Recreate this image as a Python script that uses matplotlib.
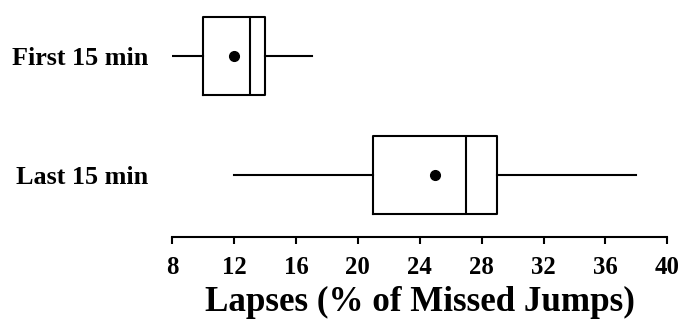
import matplotlib.pyplot as plt

# ======================
# DATA
# ======================
groups = ["First 15 min", "Last 15 min"]
whisker_lo = [8, 12]
q1 = [10, 21]
medians = [13, 27]
q3 = [14, 29]
whisker_hi = [17, 38]
means = [12, 25]
x_ticks = [8, 12, 16, 20, 24, 28, 32, 36, 40]

plt.rcParams["font.family"] = ["Liberation Serif", "DejaVu Serif"]
plt.rcParams["font.weight"] = "bold"

fig = plt.figure(figsize=(6.87, 3.2), dpi=100)
ax = fig.add_axes([0.2508, 0.2603, 0.7205, 0.7397])

stats = []
for i, g in enumerate(groups):
    stats.append({
        "label": g, "whislo": whisker_lo[i], "q1": q1[i], "med": medians[i],
        "q3": q3[i], "whishi": whisker_hi[i], "mean": means[i], "fliers": [],
    })

positions = [2, 1]
lw = 1.5
ax.bxp(stats, positions=positions, vert=False, widths=0.66, showmeans=True,
       showcaps=False, showfliers=False,
       boxprops=dict(color="black", linewidth=lw),
       medianprops=dict(color="black", linewidth=lw),
       whiskerprops=dict(color="black", linewidth=lw),
       meanprops=dict(marker="o", markerfacecolor="black", markeredgecolor="black",
                      markersize=7))

ax.set_xlim(8, 40)
ax.set_ylim(0.482, 2.47)
ax.set_xticks(x_ticks)
ax.set_xticklabels([str(t) for t in x_ticks], fontsize=17.8, fontweight="bold")
ax.set_yticks(positions)
ax.set_yticklabels(groups, fontsize=18.8, fontweight="bold")
ax.tick_params(axis="y", length=0, pad=17)
ax.tick_params(axis="x", length=5, width=lw, direction="out", pad=9)
for s in ["top", "right", "left"]:
    ax.spines[s].set_visible(False)
ax.spines["bottom"].set_linewidth(lw)
ax.set_xlabel("Lapses (% of Missed Jumps)", fontsize=25.2, fontweight="bold", labelpad=5)

fig.savefig("out.png", dpi=100)
